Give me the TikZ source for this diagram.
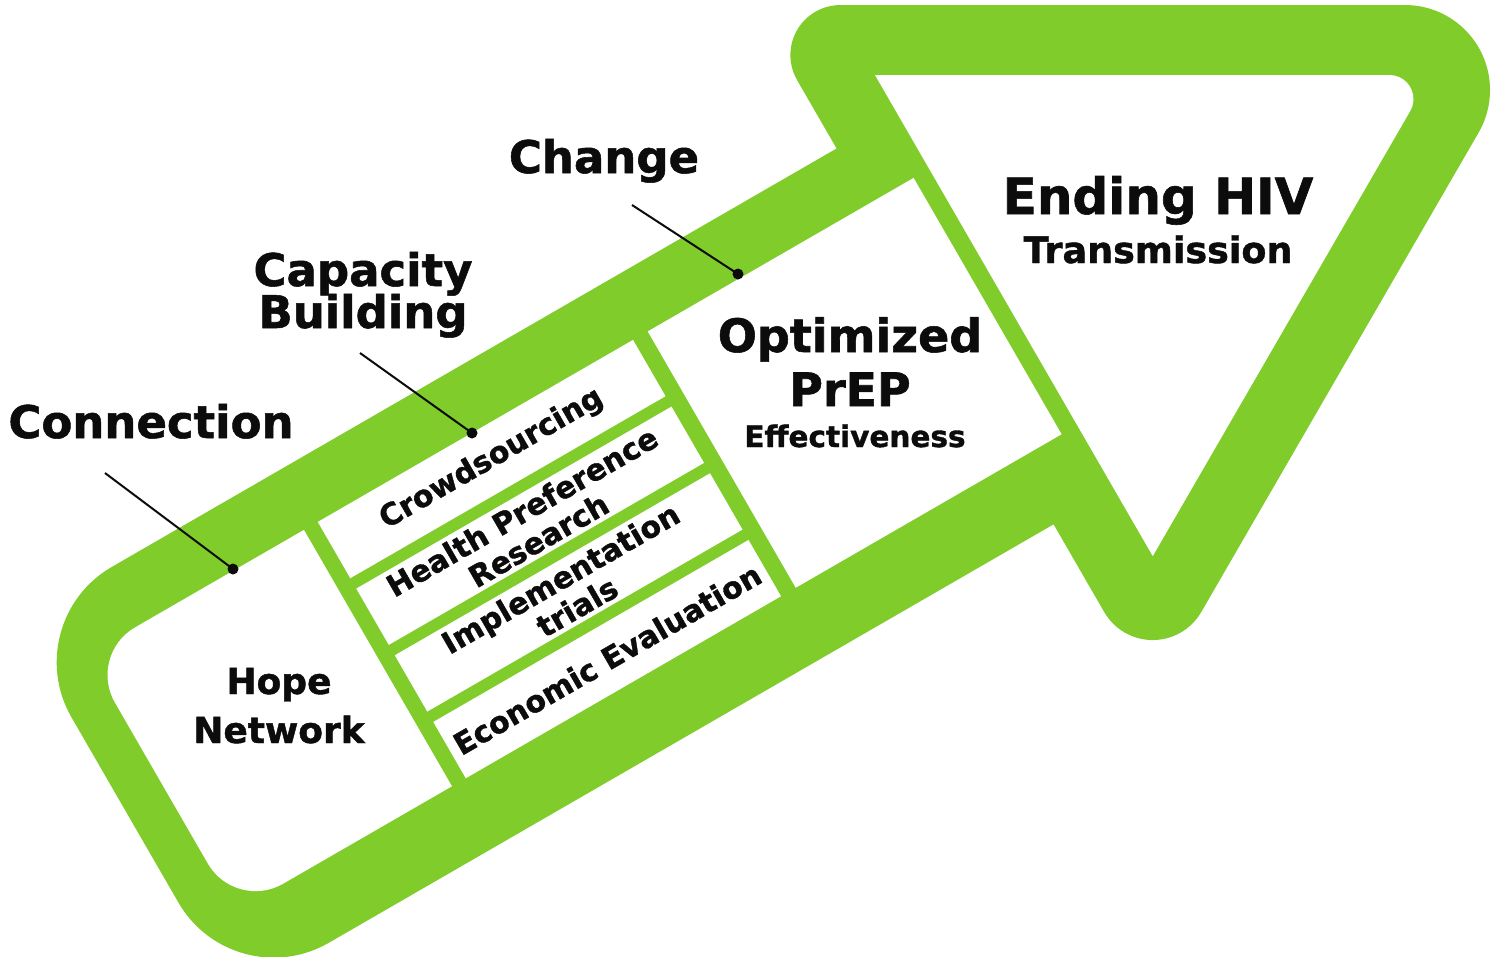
\documentclass[tikz,border=0pt]{standalone}
\usepackage{fontspec}
\setmainfont{DejaVu Sans}[BoldFeatures={FakeBold=1.2}]
\definecolor{arrowgreen}{RGB}{127,204,43}
\definecolor{ink}{RGB}{12,12,12}
\tikzset{
  lbl/.style={font=\bfseries\fontsize{45}{42}\selectfont, text=ink, inner sep=0pt, anchor=base},
  midtxt/.style={font=\bfseries\fontsize{36}{36}\selectfont, text=ink, inner sep=0pt, anchor=base},
  striptxt/.style={font=\bfseries\fontsize{30}{33}\selectfont, text=ink, inner sep=0pt, align=center, rotate=30},
  dotnode/.style={circle, fill=ink, inner sep=0pt, minimum size=11pt},
  leader/.style={draw=ink, line width=2pt},
  whitebox/.style={fill=white}
}
\begin{document}
\begin{tikzpicture}[x=1pt,y=1pt]
\useasboundingbox (0,0) rectangle (1491,-956);
\fill[white] (0,0) rectangle (1491,-956);
\begin{scope}[shift={(929.2,-168.9)}, rotate=30]
  % green outline: body
  \fill[arrowgreen, rounded corners=110pt] (-1017,64) rectangle (100,-370);
  % green outline: head
  \fill[arrowgreen] (-70,-471.3) -- (-70,143)
     arc[start angle=180, end angle=60, radius=50]
     -- (494,-96) arc[start angle=60, end angle=-60, radius=85]
     -- (14,-519.8) arc[start angle=-60, end angle=-180, radius=56] -- cycle;
  % white interiors
  \fill[whitebox] (0,108.4) -- (445.5,-148.8) arc[start angle=60, end angle=-60, radius=24] -- (0,-447.1) -- cycle;
  \fill[whitebox] (-722,0) -- (-917,0) arc[start angle=90, end angle=180, radius=55]
     -- (-972,-241) arc[start angle=180, end angle=270, radius=55] -- (-722,-296) -- cycle;
  \fill[whitebox] (-706,0) rectangle (-342,-65);
  \fill[whitebox] (-706,-77) rectangle (-342,-142);
  \fill[whitebox] (-706,-154) rectangle (-342,-219);
  \fill[whitebox] (-706,-231) rectangle (-342,-296);
  \fill[whitebox] (-325,0) rectangle (-18,-296);
  % strip texts
  \node[striptxt] (crowd) at (-524,-32.5) {Crowdsourcing};
  \node[striptxt] (health) at (-524,-109.5) {Health Preference\\Research};
  \node[striptxt] (impl) at (-524,-186.5) {Implementation\\trials};
  \node[striptxt] (econ) at (-524,-263.5) {Economic Evaluation};
\end{scope}
% inner texts
\node[midtxt] (hope) at (279,-694) {Hope};
\node[midtxt] (network) at (279,-743) {Network};
\node[lbl, font=\bfseries\fontsize{46}{46}\selectfont] (optim) at (850,-352) {Optimized};
\node[lbl, font=\bfseries\fontsize{46}{46}\selectfont] (prep) at (850,-406) {PrEP};
\node[lbl, font=\bfseries\fontsize{29.5}{30}\selectfont] (effect) at (855,-447) {Effectiveness};
\node[lbl, font=\bfseries\fontsize{50}{50}\selectfont] (ending) at (1158,-214) {Ending HIV};
\node[lbl, font=\bfseries\fontsize{36.5}{37}\selectfont] (trans) at (1158,-263) {Transmission};
% outside labels
\node[lbl] (connection) at (151,-438) {Connection};
\node[lbl] (capacity) at (363,-286) {Capacity};
\node[lbl] (building) at (363,-328) {Building};
\node[lbl] (change) at (604,-173) {Change};
% leader lines
\node[dotnode] (d1) at (233,-569) {};
\node[dotnode] (d2) at (472,-433) {};
\node[dotnode] (d3) at (738,-274) {};
\coordinate (s1) at (105,-473);
\coordinate (s2) at (360,-353);
\coordinate (s3) at (632,-205);
\draw[leader] (s1) -- (d1.center);
\draw[leader] (s2) -- (d2.center);
\draw[leader] (s3) -- (d3.center);
\end{tikzpicture}
\end{document}
